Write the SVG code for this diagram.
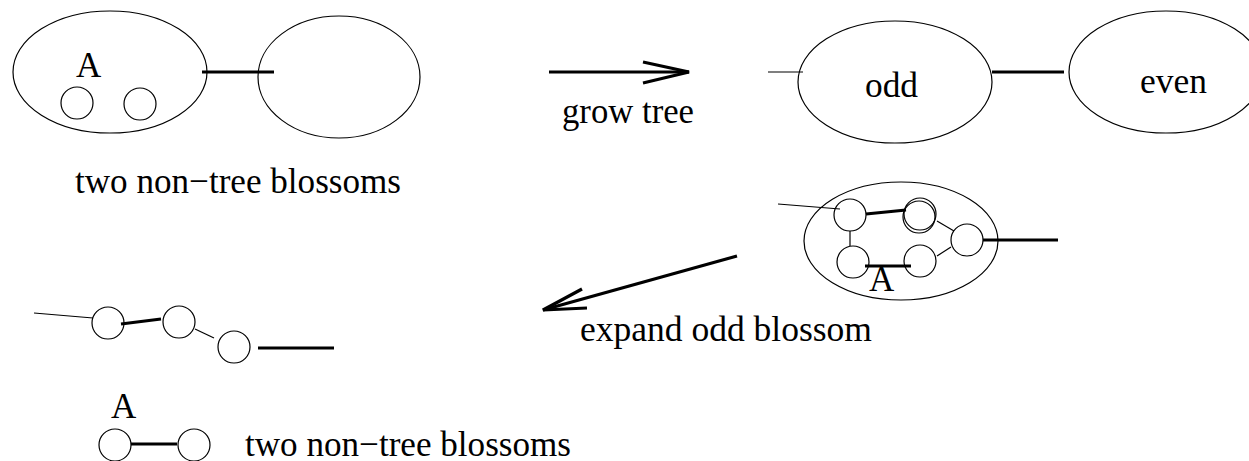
<svg xmlns="http://www.w3.org/2000/svg" width="1249" height="461" viewBox="0 0 1249 461">
<style>
.o{fill:none;stroke:#000;stroke-width:1.2}
.thin{stroke:#000;stroke-width:1.2;fill:none}
.thick{stroke:#000;stroke-width:3.2;fill:none}
.arr{stroke:#000;stroke-width:3.2;fill:none}
text{font-family:"Liberation Serif","Times New Roman",serif;font-size:35px;fill:#000}
</style>
<rect width="1249" height="461" fill="#fff"/>
<g id="blossomA">
<ellipse class="o" cx="110" cy="72" rx="97" ry="61"/>
<circle class="o" cx="77" cy="103" r="16"/>
<circle class="o" cx="140" cy="104" r="16"/>
<text x="76" y="77">A</text>
</g>
<g id="blossomB">
<ellipse class="o" cx="339" cy="77" rx="81" ry="61"/>
</g>
<g id="oddBlossom">
<ellipse class="o" cx="895" cy="82" rx="97" ry="61"/>
<text x="865" y="97" textLength="53" lengthAdjust="spacingAndGlyphs">odd</text>
</g>
<g id="evenBlossom">
<ellipse class="o" cx="1166" cy="72" rx="97" ry="61"/>
<text x="1140" y="93" textLength="67" lengthAdjust="spacingAndGlyphs">even</text>
</g>
<g id="expanded">
<ellipse class="o" cx="901" cy="241" rx="97" ry="59"/>
<circle class="o" cx="850" cy="215" r="16"/>
<circle class="o" cx="920" cy="214" r="16"/>
<circle class="o" cx="919" cy="217" r="16"/>
<circle class="o" cx="967" cy="240" r="16"/>
<circle class="o" cx="920" cy="261" r="16"/>
<circle class="o" cx="853" cy="262" r="16"/>
<text x="869" y="291">A</text>
</g>
<g id="path">
<circle class="o" cx="108" cy="323" r="16"/>
<circle class="o" cx="179" cy="322" r="16"/>
<circle class="o" cx="234" cy="347" r="16"/>
</g>
<g id="pair">
<text x="111" y="418">A</text>
<circle class="o" cx="115" cy="445" r="16"/>
<circle class="o" cx="194" cy="445" r="16"/>
</g>
<g id="connectors">
<line class="thick" x1="202" y1="72" x2="274" y2="72"/>
<line class="thin" x1="768" y1="72" x2="803" y2="72"/>
<line class="thick" x1="992" y1="72" x2="1064" y2="72"/>
<line class="thin" x1="778" y1="204" x2="840" y2="209"/>
<line class="thick" x1="866" y1="214" x2="906" y2="210"/>
<line class="thin" x1="937" y1="221" x2="954" y2="231"/>
<line class="thin" x1="951" y1="247" x2="937" y2="256"/>
<line class="thin" x1="850" y1="231" x2="850" y2="246"/>
<line class="thick" x1="865" y1="266" x2="911" y2="266"/>
<line class="thick" x1="983" y1="240" x2="1058" y2="240"/>
<line class="thin" x1="34" y1="313" x2="93" y2="318"/>
<line class="thick" x1="121" y1="324" x2="161" y2="319"/>
<line class="thin" x1="195" y1="329" x2="214" y2="338"/>
<line class="thick" x1="258" y1="348" x2="334" y2="348"/>
<line class="thick" x1="131" y1="444" x2="177" y2="444"/>
</g>
<g id="growArrow">
<line class="arr" x1="549" y1="72" x2="689" y2="72"/>
<polyline class="arr" points="643,62 689,72 643,83"/>
<text x="562" y="123" textLength="132" lengthAdjust="spacingAndGlyphs">grow tree</text>
</g>
<g id="expandArrow">
<line class="arr" x1="737" y1="256" x2="543" y2="310"/>
<polyline class="arr" points="582,289 543,310 587,308"/>
<text x="580" y="341" textLength="292" lengthAdjust="spacingAndGlyphs">expand odd blossom</text>
</g>
<text x="75" y="193" textLength="326" lengthAdjust="spacingAndGlyphs">two non−tree blossoms</text>
<text x="245" y="456" textLength="326" lengthAdjust="spacingAndGlyphs">two non−tree blossoms</text>
</svg>
